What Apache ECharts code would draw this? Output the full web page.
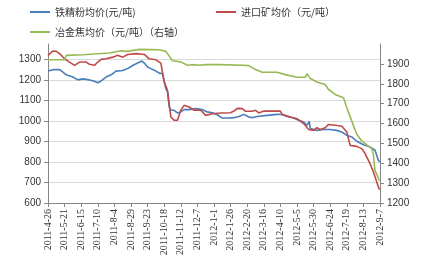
<!DOCTYPE html>
<html><head><meta charset="utf-8">
<script src="https://cdn.jsdelivr.net/npm/echarts@6/dist/echarts.min.js"></script>
<style>html,body{margin:0;padding:0;background:#fff}#c{width:431px;height:263px}</style>
</head><body><div id="c"></div>
<script>
// Day offsets are counted from startDate (2011-4-26)
const startDate = [2011, 4, 26];
const xMin = 0, xMax = 500, xStep = 25;

const blueName = '铁精粉均价(元/吨)';
const redName = '进口矿均价（元/吨）';
const greenName = '冶金焦均价（元/吨）（右轴）';

const blueDays = [0,7.5,17.5,22.5,27.5,37.5,45,52.5,62.5,70,75,80,87.5,95,102.5,112.5,120,127.5,135,141.5,145,150,155,162.5,167.5,172.5,177.5,180,182.5,185,190,195,200,205,212.5,222.5,232.5,240,247.5,255,262.5,272.5,280,287.5,295,302.5,307.5,315,330,345,352.5,360,370,377.5,385,390,393.5,395,405,415,425,435,442.5,450,457.5,465,475,485,492.5,497.5,500];
const blueVals = [1243,1250,1250,1238,1225,1214,1200,1205,1200,1193,1186,1195,1214,1225,1243,1246,1255,1270,1282,1292,1282,1263,1255,1243,1233,1230,1157,1141,1068,1052,1052,1039,1044,1055,1055,1060,1055,1044,1040,1030,1014,1014,1016,1022,1032,1019,1016,1022,1027,1032,1031,1022,1014,1003,995,979,998,963,954,958,958,954,946,930,922,901,884,873,857,808,800];

const redDays = [0,7.5,12.5,17.5,25,32.5,40,47.5,57.5,62.5,70,75,80,87.5,97.5,105,112.5,120,132.5,145,152.5,162.5,170,175,180,185,190,195,200,205,212.5,220,230,237.5,247.5,260,275,280,285,292.5,297.5,307.5,312.5,317.5,325,350,352.5,365,375,385,392.5,400,405,410,417.5,422.5,432.5,442.5,450,455,465,472.5,477.5,485,490,495,499];
const redVals = [1320,1341,1339,1328,1303,1287,1271,1287,1287,1276,1271,1287,1300,1303,1311,1320,1311,1324,1328,1324,1303,1298,1282,1190,1149,1019,1003,1003,1052,1076,1068,1052,1052,1027,1035,1039,1040,1048,1061,1060,1047,1047,1052,1039,1048,1048,1032,1019,1011,987,958,954,967,958,967,983,979,974,946,881,876,865,841,792,752,703,665];

const greenDays = [0,25,27.5,52.5,92.5,110,120,137.5,167.5,177.5,187.5,200,210,217.5,227.5,237.5,257.5,295,302.5,310,322.5,345,357.5,375,387.5,390,395,405,417.5,422.5,432.5,445,450,457.5,465,472.5,480,487.5,490,492.5,495,497.5,499];
const greenVals = [1921,1921,1943,1946,1955,1966,1963,1973,1971,1963,1916,1910,1893,1896,1893,1896,1896,1893,1891,1876,1858,1858,1846,1833,1833,1850,1826,1809,1796,1771,1746,1729,1679,1612,1546,1512,1492,1475,1445,1362,1345,1337,1312];

const leftMin = 600, leftMax = 1375, rightMin = 1200, rightMax = 2000, yStep = 100;

function pairs(d, v){ return d.map((x,i)=>[x, v[i]]); }
function dayLabel(v){
  const t = new Date(Date.UTC(startDate[0], startDate[1]-1, startDate[2]) + v*86400000);
  return t.getUTCFullYear() + '-' + (t.getUTCMonth()+1) + '-' + t.getUTCDate();
}
function plain(v){ return String(v); }

const axisColor = '#868686';
const txt = '#333';
const chart = echarts.init(document.getElementById('c'), null, {renderer:'canvas'});
const legendBase = {
  itemWidth: 20, itemHeight: 2, icon: 'rect', itemGap: 4,
  textStyle: {fontSize: 10, color: txt, fontFamily: 'Noto Sans CJK SC'},
  padding: 0
};
chart.setOption({
  animation: false,
  backgroundColor: '#fff',
  legend: [
    Object.assign({}, legendBase, {left: 30, top: 7, data: [blueName]}),
    Object.assign({}, legendBase, {left: 216, top: 7, data: [redName]}),
    Object.assign({}, legendBase, {left: 30, top: 27, data: [greenName]})
  ],
  grid: {left: 48, right: 51, top: 44, bottom: 60, containLabel: false},
  xAxis: {
    type: 'value', min: xMin, max: xMax, interval: xStep,
    axisLine: {show: true, lineStyle: {color: axisColor}},
    axisTick: {show: true, length: 4, lineStyle: {color: axisColor}},
    splitLine: {show: false},
    axisLabel: {rotate: 90, fontSize: 10, color: txt, fontFamily: 'Liberation Serif', margin: 6, formatter: dayLabel}
  },
  yAxis: [
    {
      type: 'value', min: leftMin, max: leftMax, interval: yStep, position: 'left',
      axisLine: {show: true, lineStyle: {color: axisColor}},
      axisTick: {show: true, length: 4, lineStyle: {color: axisColor}},
      splitLine: {show: true, showMaxLine: false, lineStyle: {color: '#D9D9D9'}},
      axisLabel: {fontSize: 10, color: txt, fontFamily: 'Liberation Sans', margin: 7, showMaxLabel: false, formatter: plain}
    },
    {
      type: 'value', min: rightMin, max: rightMax, interval: yStep, position: 'right',
      axisLine: {show: true, lineStyle: {color: axisColor}},
      axisTick: {show: true, length: 4, lineStyle: {color: axisColor}},
      splitLine: {show: false},
      axisLabel: {fontSize: 10, color: txt, fontFamily: 'Liberation Sans', margin: 7, showMaxLabel: false, formatter: plain}
    }
  ],
  series: [
    {name: blueName, type: 'line', yAxisIndex: 0, data: pairs(blueDays, blueVals), showSymbol: false, symbol: 'none', lineStyle: {width: 1.6, color: '#4A7EBB'}, itemStyle: {color: '#4A7EBB'}},
    {name: redName, type: 'line', yAxisIndex: 0, data: pairs(redDays, redVals), showSymbol: false, symbol: 'none', lineStyle: {width: 1.6, color: '#BE4B48'}, itemStyle: {color: '#BE4B48'}},
    {name: greenName, type: 'line', yAxisIndex: 1, data: pairs(greenDays, greenVals), showSymbol: false, symbol: 'none', lineStyle: {width: 1.6, color: '#98B954'}, itemStyle: {color: '#98B954'}}
  ]
});
</script></body></html>
